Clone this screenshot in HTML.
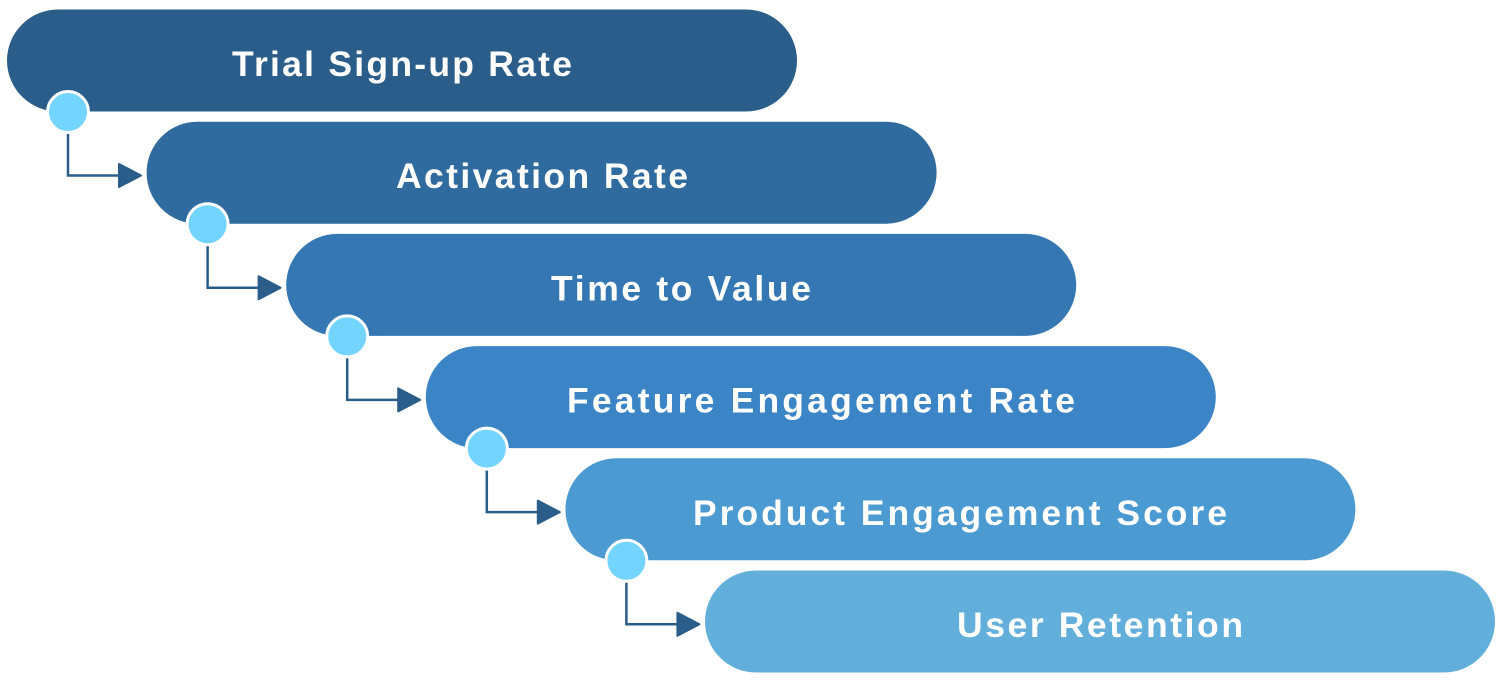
<!DOCTYPE html>
<html><head><meta charset="utf-8"><style>
html,body{margin:0;padding:0;background:#fff;}
svg{display:block;}
text{font-family:"Liberation Sans",Arial,sans-serif;font-weight:bold;font-size:35.5px;fill:#fff;}
</style></head><body>
<svg width="1500" height="683" viewBox="0 0 1500 683" xmlns="http://www.w3.org/2000/svg">
<!-- pills -->
<rect x="7" y="9.5" width="790" height="102" rx="51" fill="#2a5d89"/>
<rect x="146.6" y="121.7" width="790" height="102" rx="51" fill="#2f6b9e"/>
<rect x="286.2" y="233.9" width="790" height="102" rx="51" fill="#3477b2"/>
<rect x="425.8" y="346.1" width="790" height="102" rx="51" fill="#3b85c6"/>
<rect x="565.4" y="458.3" width="790" height="102" rx="51" fill="#4b9ad2"/>
<rect x="705" y="570.5" width="790" height="102" rx="51" fill="#63afdc"/>

<!-- connectors -->
<g fill="none" stroke="#2a5d89" stroke-width="2.5">
<polyline points="68,112 68,175.5 122,175.5"/>
<polyline points="207.6,224.2 207.6,287.7 261.6,287.7"/>
<polyline points="347.2,336.4 347.2,399.9 401.2,399.9"/>
<polyline points="486.8,448.6 486.8,512.1 540.8,512.1"/>
<polyline points="626.4,560.8 626.4,624.3 680.4,624.3"/>
</g>
<g fill="#2a5d89" stroke="#2a5d89" stroke-width="2" stroke-linejoin="round">
<polygon points="119,164 141,175.5 119,187"/>
<polygon points="258.6,276.2 280.6,287.7 258.6,299.2"/>
<polygon points="398.2,388.4 420.2,399.9 398.2,411.4"/>
<polygon points="537.8,500.6 559.8,512.1 537.8,523.6"/>
<polygon points="677.4,612.8 699.4,624.3 677.4,635.8"/>
</g>

<!-- circles -->
<g fill="#73d4ff" stroke="#ffffff" stroke-width="3">
<circle cx="68" cy="112" r="20.5"/>
<circle cx="207.6" cy="224.2" r="20.5"/>
<circle cx="347.2" cy="336.4" r="20.5"/>
<circle cx="486.8" cy="448.6" r="20.5"/>
<circle cx="626.4" cy="560.8" r="20.5"/>
</g>

<!-- labels -->
<g text-anchor="middle">
<text x="402" y="76" textLength="340" lengthAdjust="spacing">Trial Sign-up Rate</text>
<text x="542" y="188.2" textLength="292" lengthAdjust="spacing">Activation Rate</text>
<text x="681" y="300.4" textLength="260" lengthAdjust="spacing">Time to Value</text>
<text x="821" y="412.6" textLength="508" lengthAdjust="spacing">Feature Engagement Rate</text>
<text x="960" y="524.8" textLength="534" lengthAdjust="spacing">Product Engagement Score</text>
<text x="1100" y="637" textLength="286" lengthAdjust="spacing">User Retention</text>
</g>
</svg>
</body></html>
